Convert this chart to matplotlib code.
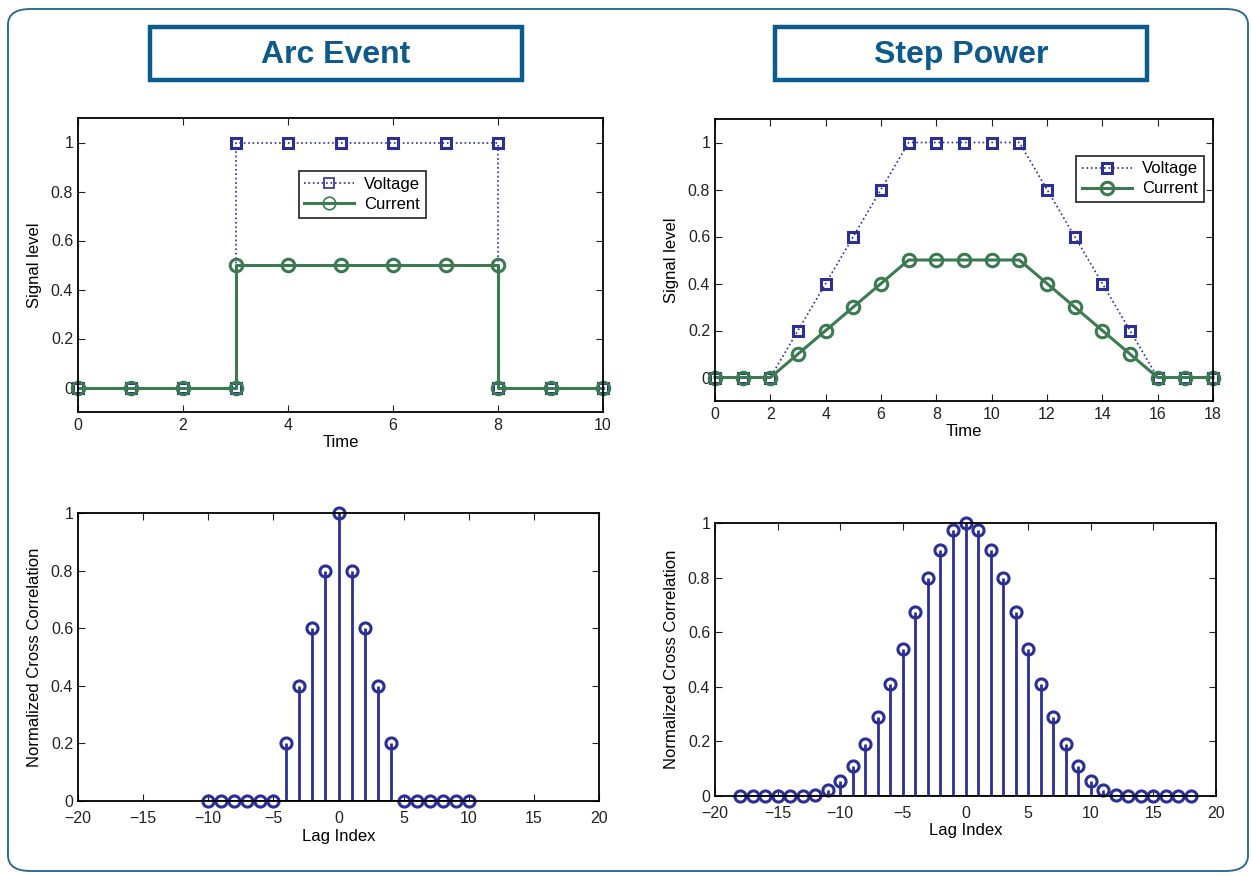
import numpy as np
import matplotlib.pyplot as plt
from matplotlib.patches import Rectangle, FancyBboxPatch

plt.rcParams['font.family'] = ['Liberation Sans', 'DejaVu Sans']

# arc event: voltage/current steps (t=3 and t=8 appear twice for the jump)
arc_t = [0, 1, 2, 3, 3, 4, 5, 6, 7, 8, 8, 9, 10]
arc_v = [0, 0, 0, 0, 1, 1, 1, 1, 1, 1, 0, 0, 0]
arc_i = [0, 0, 0, 0, 0.5, 0.5, 0.5, 0.5, 0.5, 0.5, 0, 0, 0]

# step power: ramped voltage/current
step_t = list(range(19))
step_v = [0, 0, 0, 0.2, 0.4, 0.6, 0.8, 1, 1, 1, 1, 1, 0.8, 0.6, 0.4, 0.2, 0, 0, 0]
step_i = [0, 0, 0, 0.1, 0.2, 0.3, 0.4, 0.5, 0.5, 0.5, 0.5, 0.5, 0.4, 0.3, 0.2, 0.1, 0, 0, 0]

# normalized cross correlation
arc_lag = list(range(-10, 11))
arc_xc = [0, 0, 0, 0, 0, 0, 0.2, 0.4, 0.6, 0.8, 1.0,
          0.8, 0.6, 0.4, 0.2, 0, 0, 0, 0, 0, 0]
step_lag = list(range(-18, 19))
step_half = [1.0, 0.973, 0.90, 0.80, 0.675, 0.54, 0.41, 0.29, 0.19, 0.11,
             0.055, 0.022, 0.005, 0, 0, 0, 0, 0, 0]
step_xc = step_half[:0:-1] + step_half

BLUE = '#2b2f96'
GREEN = '#3c7a52'
FRAME = '#0d5a8c'

W, H = 1252, 876
fig = plt.figure(figsize=(W / 100, H / 100), dpi=100)


def px_axes(left, top, right, bottom):
    return fig.add_axes([left / W, 1 - bottom / H, (right - left) / W, (bottom - top) / H])


def style(ax, xpad=4):
    ax.tick_params(direction='in', top=True, right=True, labelsize=11.5,
                   length=5, width=0.8, colors='#222222', labelcolor='#222222')
    ax.tick_params(axis='x', pad=xpad)
    for s in ax.spines.values():
        s.set_linewidth(1.3)
        s.set_color('black')


def signal_plot(ax, t, v, i, xticks, legend_pos, mew_leg):
    ax.plot(t, v, ':', color=BLUE, lw=1.2, marker='s', ms=7, mew=2.2,
            mfc='none', mec=BLUE, label='Voltage', clip_on=False)
    ax.plot(t, i, '-', color=GREEN, lw=2.2, marker='o', ms=9, mew=2.2,
            mfc='none', mec=GREEN, label='Current', clip_on=False)
    ax.set_xlim(xticks[0], xticks[-1])
    ax.set_ylim(-0.1, 1.1)
    ax.set_xticks(xticks)
    ax.set_yticks([0, 0.2, 0.4, 0.6, 0.8, 1])
    ax.set_yticklabels(['0', '0.2', '0.4', '0.6', '0.8', '1'])
    ax.set_xlabel('Time', fontsize=12, labelpad=2)
    ax.set_ylabel('Signal level', fontsize=12, labelpad=6)
    style(ax)
    leg = ax.legend(loc='upper left', bbox_to_anchor=legend_pos, fontsize=12,
                    frameon=True, fancybox=False, edgecolor='black',
                    handlelength=3.0, borderpad=0.35, labelspacing=0.3,
                    handletextpad=0.6, borderaxespad=0)
    leg.get_frame().set_linewidth(1.3)
    for h in leg.legend_handles:
        h.set_markeredgewidth(mew_leg)


def stem_plot(ax, lag, xc):
    mk, st, bl = ax.stem(lag, xc, linefmt='-', markerfmt='o', basefmt='k-')
    mk.set_color(BLUE)
    mk.set_markerfacecolor('none')
    mk.set_markersize(8)
    mk.set_markeredgewidth(2.2)
    mk.set_clip_on(False)
    st.set_color(BLUE)
    st.set_linewidth(2)
    bl.set_linewidth(1.3)
    ax.set_xlim(-20, 20)
    ax.set_ylim(0, 1)
    ax.set_xticks(range(-20, 21, 5))
    ax.set_xticklabels([str(v).replace('-', '\u2212') for v in range(-20, 21, 5)])
    ax.set_yticks([0, 0.2, 0.4, 0.6, 0.8, 1])
    ax.set_yticklabels(['0', '0.2', '0.4', '0.6', '0.8', '1'])
    ax.set_xlabel('Lag Index', fontsize=12, labelpad=2)
    ax.set_ylabel('Normalized Cross Correlation', fontsize=12, labelpad=6)
    style(ax, xpad=7)


ax1 = px_axes(78, 118, 603, 412)
signal_plot(ax1, arc_t, arc_v, arc_i, [0, 2, 4, 6, 8, 10], (0.42, 0.82), 1.2)

ax2 = px_axes(715, 119, 1213, 401)
signal_plot(ax2, step_t, step_v, step_i, list(range(0, 19, 2)), (0.725, 0.87), 2.2)

ax3 = px_axes(78, 513, 599, 801)
stem_plot(ax3, arc_lag, arc_xc)

ax4 = px_axes(715, 523, 1216, 796)
stem_plot(ax4, step_lag, step_xc)

# outer rounded frame
fig.patches.append(FancyBboxPatch((8 / W, 5 / H), 1240 / W, 862 / H,
                                  boxstyle='round,pad=0,rounding_size=0.018',
                                  transform=fig.transFigure, fill=False,
                                  edgecolor='#2f6a98', lw=1.4))

# panel title boxes
for x0, txt in [(150, 'Arc Event'), (775, 'Step Power')]:
    fig.patches.append(Rectangle((x0 / W, 1 - 80 / H), 372 / W, 53 / H,
                                 transform=fig.transFigure, fill=False,
                                 edgecolor=FRAME, lw=3.2))
    fig.text((x0 + 186) / W, 1 - 55 / H, txt, ha='center', va='center',
             fontsize=23, fontweight='bold', color=FRAME)

fig.savefig('out.png', dpi=100)
